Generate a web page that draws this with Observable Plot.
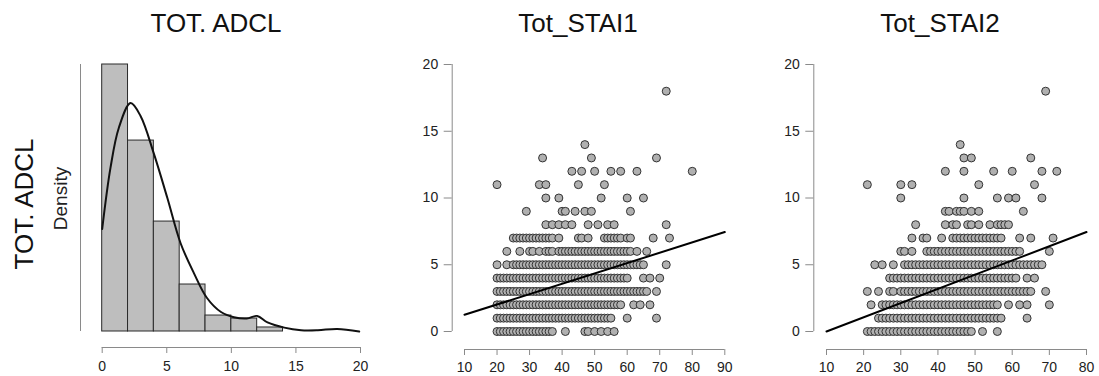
<!DOCTYPE html>
<html><head><meta charset="utf-8">
<script src="https://cdn.jsdelivr.net/npm/d3@7"></script>
<script src="https://cdn.jsdelivr.net/npm/@observablehq/plot@0.6"></script>
<style>
body{margin:0;background:#fff;}
#root{position:relative;width:1099px;height:376px;overflow:hidden;background:#fff;font-family:"Liberation Sans",Arial,sans-serif;}
#root > svg, #root > .p{position:absolute;top:0;}
</style></head><body><div id="root"></div>
<script>
// ---------- DATA ----------
const panelTitles = ["TOT. ADCL", "Tot_STAI1", "Tot_STAI2"];
const rowLabel = "TOT. ADCL";
const densityLabel = "Density";

// Histogram of TOT. ADCL (bin edges and densities)
const histBinStart = [0, 2, 4, 6, 8, 10, 12];
const histBinEnd   = [2, 4, 6, 8, 10, 12, 14];
const histDensity  = [0.2057, 0.1471, 0.0847, 0.0362, 0.0123, 0.0100, 0.0031];
const histTicks = [0, 5, 10, 15, 20];

// Kernel density curve
const densX = [0, 0.64, 1.29, 2.2, 2.97, 4.0, 5.04, 6.07, 7.1, 8.1, 9.2, 10.2, 11.2, 12.0, 12.8, 14.1, 15.4, 16.7, 18.2, 19.9];
const densY = [0.079, 0.126, 0.157, 0.176, 0.166, 0.137, 0.103, 0.068, 0.045, 0.026, 0.015, 0.011, 0.010, 0.012, 0.007, 0.003, 0.001, 0.001, 0.002, 0.000];

// Scatter: Tot_STAI1 values for each TOT. ADCL score (index = score 0..18)
const stai1ByAdcl = [
  [20,21,22,23,24,25,26,27,28,29,30,31,32,33,34,35,36,37,41,47,48,50,52,54,56],
  [20,21,22,23,24,25,26,27,28,29,30,31,32,33,34,35,36,37,38,39,40,41,42,43,44,45,46,47,48,49,50,51,52,53,54,55,60,69],
  [20,21,22,23,24,25,26,27,28,29,30,31,32,33,34,35,36,37,38,39,40,41,42,43,44,45,46,47,48,49,50,51,52,53,54,55,56,57,58,62,64,67],
  [20,21,22,23,24,25,26,27,28,29,30,31,32,33,34,35,36,37,38,39,40,41,42,43,44,45,46,47,48,49,50,51,52,53,54,55,56,57,58,59,60,61,62,63,64,65,66,69],
  [20,21,22,23,24,25,26,27,28,29,30,31,32,33,34,35,36,37,38,39,40,41,42,43,44,45,46,47,48,49,50,51,52,53,54,55,56,57,58,59,60,65,67,70],
  [20,23,25,26,27,28,29,30,31,32,33,34,35,36,37,38,39,40,41,42,43,44,45,46,47,48,49,50,51,52,53,54,55,56,57,58,59,60,61,62,63,64,65,72],
  [23,27,30,31,33,35,36,37,39,40,41,42,43,44,45,46,47,48,49,50,51,52,53,54,55,56,57,58,59,60,61,63,66],
  [25,26,27,28,29,30,31,32,33,34,35,36,37,39,45,46,48,53,54,55,56,57,58,60,61,68,73],
  [35,37,39,41,43,48,51,54,56,72],
  [29,40,41,44,47,49,61],
  [35,39,52,60,65],
  [20,33,35,45,53],
  [43,46,50,55,58,63,80],
  [34,49,69],
  [47],
  [], [], [],
  [72]
];

// Scatter: Tot_STAI2 values for each TOT. ADCL score (index = score 0..18)
const stai2ByAdcl = [
  [21,22,23,24,25,26,27,28,29,30,31,32,33,34,35,36,37,38,39,40,41,42,43,44,45,46,47,48,49,52,56],
  [24,25,26,27,28,29,30,31,32,33,34,35,36,37,38,39,40,41,42,43,44,45,46,47,48,49,50,51,52,53,54,55,56,57,64],
  [22,25,26,27,28,29,30,31,32,33,34,35,36,37,38,39,40,41,42,43,44,45,46,47,48,49,50,51,52,53,54,55,56,59,62,64,70],
  [21,24,27,28,30,31,32,33,34,35,36,37,38,39,40,41,42,43,44,45,46,47,48,49,50,51,52,53,54,55,56,57,58,59,60,61,62,63,64,65,69],
  [27,28,29,30,31,32,33,34,35,36,37,38,39,40,41,42,43,44,45,46,47,48,49,50,51,52,53,54,55,56,57,58,59,60,61,64,66],
  [23,25,28,31,32,33,34,35,36,37,38,39,40,41,42,43,44,45,46,47,48,49,50,51,52,53,54,55,56,57,58,59,60,61,62,63,64,65,66,67,68],
  [30,31,33,37,38,39,40,41,42,43,44,45,46,47,48,49,50,51,52,53,54,55,56,57,58,59,60,61,62,70],
  [33,36,37,41,44,45,46,47,48,49,50,51,52,53,54,55,56,57,62,65,71],
  [34,42,44,45,48,49,51,54,56,57,58,59],
  [42,43,45,46,47,49,51,63],
  [30,47,56,59,61,68],
  [21,30,33,51,66],
  [42,47,55,60,68,72],
  [47,49,65],
  [46],
  [], [], [],
  [69]
];

const stai1Ticks = [10, 20, 30, 40, 50, 60, 70, 80, 90];
const stai2Ticks = [10, 20, 30, 40, 50, 60, 70, 80];
const adclTicks = [0, 5, 10, 15, 20];

// Fitted regression lines (end points)
const stai1FitX = [10, 90];
const stai1FitY = [1.25, 7.45];
const stai2FitX = [10, 80];
const stai2FitY = [0.0, 7.45];

// ---------- BUILD ----------
const root = document.getElementById("root");
const FONT = "'Liberation Sans', Arial, sans-serif";
const AXIS_GREY = "#8a8a8a";
const LABEL = "#222";
const TICK_FONT = 14;

// Panel 1: histogram + density
const bins = histBinStart.map((s, i) => ({x1: s, x2: histBinEnd[i], d: histDensity[i]}));
const curve = densX.map((x, i) => ({x, d: densY[i]}));
const yMax = d3.max(histDensity);

const hist = Plot.plot({
  width: 375, height: 376,
  marginLeft: 80, marginRight: 15, marginTop: 64, marginBottom: 29,
  style: {fontFamily: FONT, fontSize: TICK_FONT + "px", background: "transparent"},
  x: {domain: [0, 20], insetLeft: 21.7, axis: null},
  y: {domain: [0, yMax], insetBottom: 16, axis: null},
  marks: [
    Plot.rectY(bins, {x1: "x1", x2: "x2", y: "d", fill: "#bebebe", stroke: "#2a2a2a", strokeWidth: 1, inset: 0}),
    Plot.line(curve, {x: "x", y: "d", curve: "catmull-rom", stroke: "#111", strokeWidth: 2}),
    Plot.ruleX([0], {y1: 0, y2: yMax, dx: -21.7, stroke: AXIS_GREY}),
    Plot.ruleY([0], {x1: histTicks[0], x2: histTicks[histTicks.length - 1], dy: 16, stroke: AXIS_GREY}),
    Plot.axisX({ticks: histTicks, tickSize: 6, tickPadding: 8, fontSize: TICK_FONT, stroke: AXIS_GREY, fill: LABEL, label: null})
  ]
});
hist.style.left = "0px";
root.appendChild(hist);

function scatter(byAdcl, ticks, fitX, fitY, geo) {
  const pts = [];
  byAdcl.forEach((xs, score) => xs.forEach(x => pts.push({x, y: score})));
  const fit = fitX.map((x, i) => ({x, y: fitY[i]}));
  const xd = [ticks[0], ticks[ticks.length - 1]];
  const svg = Plot.plot({
    width: geo.width, height: 376,
    marginLeft: geo.marginLeft, marginRight: geo.marginRight, marginTop: 64, marginBottom: 27,
    style: {fontFamily: FONT, fontSize: TICK_FONT + "px", background: "transparent"},
    x: {domain: xd, insetLeft: geo.insetLeft, axis: null},
    y: {domain: [0, 20], insetBottom: 18, axis: null},
    marks: [
      Plot.ruleX([xd[0]], {y1: 0, y2: 20, dx: -geo.insetLeft, stroke: AXIS_GREY}),
      Plot.ruleY([0], {x1: xd[0], x2: xd[1], dy: 18, stroke: AXIS_GREY}),
      Plot.axisY({ticks: adclTicks, tickSize: 8, tickPadding: 6, fontSize: TICK_FONT, stroke: AXIS_GREY, fill: LABEL, label: null}),
      Plot.axisX({ticks, tickSize: 6, tickPadding: 7, fontSize: TICK_FONT, stroke: AXIS_GREY, fill: LABEL, label: null}),
      Plot.dot(pts, {x: "x", y: "y", r: 4, fill: "#b0b0b0", stroke: "#333", strokeWidth: 1}),
      Plot.line(fit, {x: "x", y: "y", stroke: "#000", strokeWidth: 2})
    ]
  });
  svg.style.left = geo.left + "px";
  root.appendChild(svg);
}

scatter(stai1ByAdcl, stai1Ticks, stai1FitX, stai1FitY, {left: 380, width: 360, marginLeft: 71.7, insetLeft: 12.3, marginRight: 15.7});
scatter(stai2ByAdcl, stai2Ticks, stai2FitX, stai2FitY, {left: 745, width: 354, marginLeft: 68.3, insetLeft: 12.7, marginRight: 13});

// Text overlay: titles and row labels
const ov = d3.select(root).append("svg")
  .attr("width", 1099).attr("height", 376)
  .style("position", "absolute").style("left", "0px").style("top", "0px")
  .style("pointer-events", "none")
  .attr("font-family", FONT).attr("fill", "#111");
const titleX = [216, 578, 940];
panelTitles.forEach((t, i) => ov.append("text").attr("x", titleX[i]).attr("y", 32)
  .attr("text-anchor", "middle").attr("font-size", 26).text(t));
ov.append("text").attr("transform", "translate(33,204) rotate(-90)")
  .attr("text-anchor", "middle").attr("font-size", 26).text(rowLabel);
ov.append("text").attr("transform", "translate(66.5,198.5) rotate(-90)")
  .attr("text-anchor", "middle").attr("font-size", 19).attr("fill", "#222").text(densityLabel);
</script>
</body></html>
